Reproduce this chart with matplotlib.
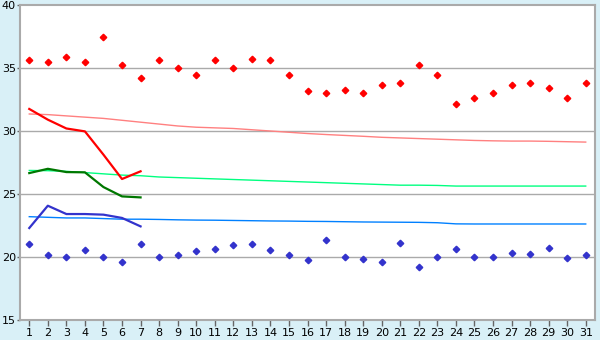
import matplotlib
matplotlib.use("Agg")
import matplotlib.pyplot as plt

days = list(range(1, 32))

rec_max = [35.63, 35.48, 35.87, 35.48, 37.46, 35.24, 34.2, 35.63, 35.0, 34.44,
           35.63, 35.0, 35.71, 35.63, 34.44, 33.2, 33.02, 33.25, 33.02, 33.65,
           33.8, 35.24, 34.44, 32.14, 32.62, 33.02, 33.65, 33.8, 33.41, 32.62, 33.8]
rec_min = [21.03, 20.16, 20.0, 20.56, 20.0, 19.6, 21.03, 20.0, 20.16, 20.48,
           20.63, 20.95, 21.03, 20.56, 20.16, 19.76, 21.35, 20.0, 19.84, 19.6,
           21.11, 19.21, 20.0, 20.63, 20.0, 20.0, 20.32, 20.24, 20.71, 19.92, 20.16]

obs_days = [1, 2, 3, 4, 5, 6, 7]
obs_max = [31.75, 30.9, 30.2, 29.97, 28.12, 26.19, 26.8]
obs_mean = [26.66, 27.0, 26.74, 26.72, 25.55, 24.81, 24.73]
obs_min = [22.3, 24.07, 23.41, 23.41, 23.36, 23.1, 22.43]

norm_max = [31.35, 31.3, 31.2, 31.1, 31.0, 30.85, 30.7, 30.55, 30.4, 30.3,
            30.25, 30.2, 30.1, 30.0, 29.9, 29.8, 29.72, 29.65, 29.58, 29.5,
            29.45, 29.4, 29.35, 29.3, 29.25, 29.22, 29.2, 29.2, 29.18, 29.15, 29.12]
norm_mean = [26.87, 26.85, 26.8, 26.7, 26.6, 26.5, 26.45, 26.35, 26.3, 26.25,
             26.2, 26.15, 26.1, 26.05, 26.0, 25.95, 25.9, 25.85, 25.8, 25.75,
             25.7, 25.7, 25.68, 25.63, 25.63, 25.63, 25.63, 25.63, 25.63, 25.63, 25.63]
norm_min = [23.2, 23.15, 23.1, 23.1, 23.05, 23.0, 23.0, 22.98, 22.95, 22.93,
            22.92, 22.9, 22.88, 22.86, 22.85, 22.83, 22.82, 22.8, 22.78, 22.77,
            22.76, 22.75, 22.72, 22.63, 22.62, 22.62, 22.62, 22.62, 22.62, 22.62, 22.62]

yticks = [15, 20, 25, 30, 35, 40]

bg = "#D9F0F7"
fig = plt.figure(figsize=(6, 3.4), dpi=100, facecolor=bg)
ax = fig.add_axes([20/600, 20/340, 575/600, 315/340])
ax.set_facecolor("white")

for y in [20, 25, 30, 35]:
    ax.axhline(y, color="#AAAAAA", lw=1, zorder=0)

ax.plot(days, norm_max, color="#FF8080", lw=1)
ax.plot(days, norm_mean, color="#00FF80", lw=1)
ax.plot(days, norm_min, color="#0080FF", lw=1)

ax.plot(obs_days, obs_max, color="#FF0000", lw=1.6)
ax.plot(obs_days, obs_mean, color="#007700", lw=1.6)
ax.plot(obs_days, obs_min, color="#3333CC", lw=1.6)

ax.plot(days, rec_max, ls="none", marker="D", ms=3.3, color="#FF0000", mec="#FF0000")
ax.plot(days, rec_min, ls="none", marker="D", ms=3.3, color="#3333CC", mec="#3333CC")

ax.set_xlim(0.5, 31.5)
ax.set_ylim(15, 40)
ax.set_xticks(days)
ax.set_xticklabels([str(d) for d in days])
ax.set_yticks(yticks)
ax.set_yticklabels([str(v) for v in yticks])
for s in ax.spines.values():
    s.set_color("#AAAAAA")
    s.set_linewidth(1.5)
ax.tick_params(axis="x", colors="#666666", labelcolor="black", labelsize=8,
               length=4, width=1, direction="out", pad=2)
ax.tick_params(axis="y", colors="#666666", labelcolor="black", labelsize=8,
               length=2.5, width=1, direction="out", pad=0.5)

fig.savefig("out.png", dpi=100, facecolor=bg)
